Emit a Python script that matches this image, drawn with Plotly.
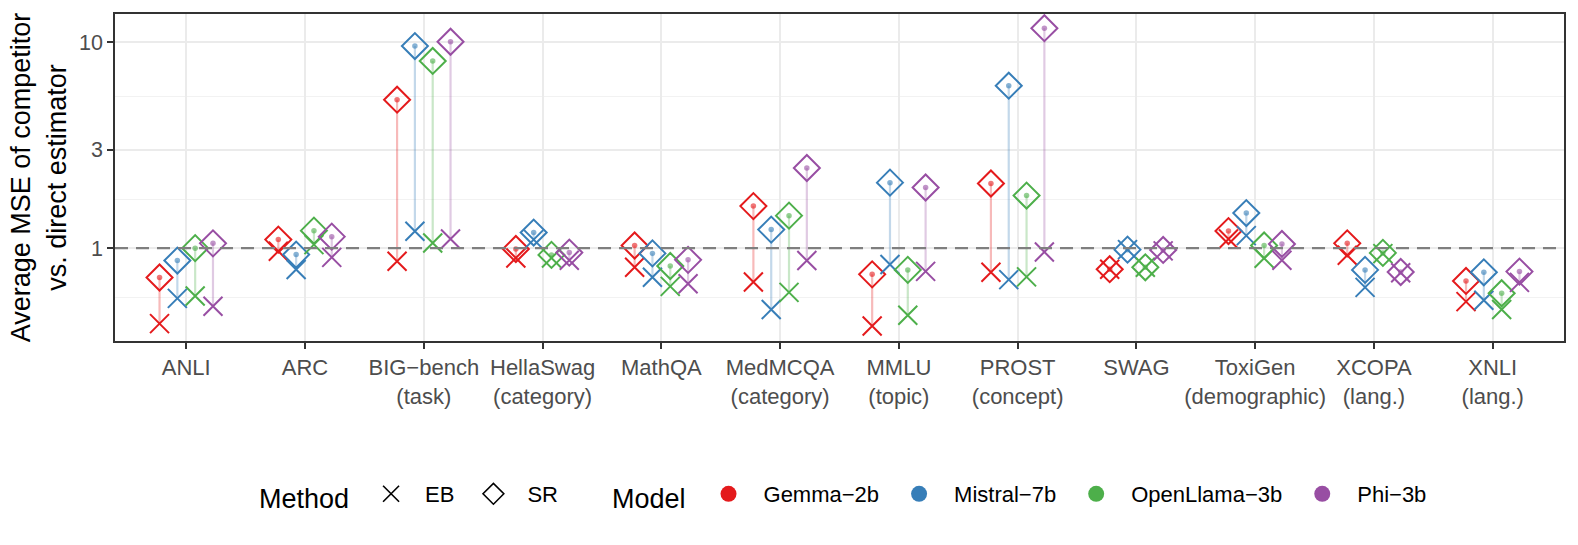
import plotly.graph_objects as go

categories = ["ANLI", "ARC", "BIG−bench<br>(task)", "HellaSwag<br>(category)", "MathQA",
              "MedMCQA<br>(category)", "MMLU<br>(topic)", "PROST<br>(concept)", "SWAG",
              "ToxiGen<br>(demographic)", "XCOPA<br>(lang.)", "XNLI<br>(lang.)"]
models = ["Gemma−2b", "Mistral−7b", "OpenLlama−3b", "Phi−3b"]
colors = ["#E41A1C", "#377EB8", "#4DAF4A", "#984EA3"]

sr_gemma = [0.72, 1.10, 5.26, 0.99, 1.03, 1.60, 0.746, 2.06, 0.79, 1.21, 1.055, 0.693]
eb_gemma = [0.43, 0.966, 0.863, 0.896, 0.807, 0.685, 0.419, 0.763, 0.79, 1.108, 0.923, 0.55]
sr_mistral = [0.87, 0.93, 9.58, 1.19, 0.943, 1.23, 2.08, 6.15, 0.983, 1.48, 0.784, 0.763]
eb_mistral = [0.57, 0.787, 1.207, 1.10, 0.722, 0.503, 0.832, 0.703, 0.983, 1.15, 0.645, 0.558]
sr_openllama = [1.0, 1.216, 8.11, 0.927, 0.819, 1.438, 0.784, 1.80, 0.807, 1.03, 0.948, 0.604]
eb_openllama = [0.586, 1.04, 1.06, 0.896, 0.652, 0.610, 0.472, 0.725, 0.807, 0.893, 0.94, 0.503]
sr_phi = [1.055, 1.137, 10.05, 0.951, 0.877, 2.45, 1.97, 11.7, 0.98, 1.048, 0.766, 0.769]
eb_phi = [0.522, 0.902, 1.108, 0.873, 0.672, 0.87, 0.771, 0.958, 0.97, 0.873, 0.76, 0.682]

y_tickvals = [1, 3, 10]
y_ticktext = ["1", "3", "10"]

sr_all = [sr_gemma, sr_mistral, sr_openllama, sr_phi]
eb_all = [eb_gemma, eb_mistral, eb_openllama, eb_phi]
dodge = [-0.225, -0.075, 0.075, 0.225]

FONT = "Liberation Sans, Arial, Helvetica, sans-serif"

def rgba(h, a):
    h = h.lstrip("#")
    return "rgba(%d,%d,%d,%s)" % (int(h[0:2], 16), int(h[2:4], 16), int(h[4:6], 16), a)

fig = go.Figure()

for m, (name, col) in enumerate(zip(models, colors)):
    xs = [i + dodge[m] for i in range(len(categories))]
    sx, sy = [], []
    for x, a, b in zip(xs, sr_all[m], eb_all[m]):
        sx += [x, x, None]
        sy += [a, b, None]
    fig.add_trace(go.Scatter(x=sx, y=sy, mode="lines", line=dict(color=rgba(col, 0.3), width=2.2),
                             showlegend=False, hoverinfo="skip"))
    fig.add_trace(go.Scatter(x=xs, y=sr_all[m], mode="markers", showlegend=False,
                             marker=dict(symbol="circle", size=5.5, color=rgba(col, 0.6), line=dict(width=0))))
    fig.add_trace(go.Scatter(x=xs, y=sr_all[m], mode="markers", showlegend=False,
                             marker=dict(symbol="diamond-open", size=20, color=col, line=dict(width=2, color=col))))
    fig.add_trace(go.Scatter(x=xs, y=eb_all[m], mode="markers", showlegend=False,
                             marker=dict(symbol="x-thin-open", size=19, color=col, line=dict(width=2, color=col))))

# legend entries
fig.add_trace(go.Scatter(x=[None], y=[None], mode="markers", name="EB", legend="legend",
                         marker=dict(symbol="x-thin-open", size=16, color="black", line=dict(width=1.6, color="black"))))
fig.add_trace(go.Scatter(x=[None], y=[None], mode="markers", name="SR", legend="legend",
                         marker=dict(symbol="diamond-open", size=16, color="black", line=dict(width=1.6, color="black"))))
for name, col in zip(models, colors):
    fig.add_trace(go.Scatter(x=[None], y=[None], mode="markers", name=name, legend="legend2",
                             marker=dict(symbol="circle", size=16, color=col)))

fig.add_hline(y=1, line=dict(color="#7F7F7F", width=2.4, dash="13px,8px"))

fig.update_layout(
    width=1578, height=545,
    margin=dict(l=115, r=14, t=14, b=204),
    plot_bgcolor="white", paper_bgcolor="white",
    font=dict(family=FONT, size=22, color="black"),
    legend=dict(orientation="h", x=0.098, xanchor="left", y=-0.474, yanchor="middle",
                title=dict(text="Method", font=dict(size=27, family=FONT), side="left"),
                font=dict(size=22, family=FONT), itemwidth=58, bgcolor="rgba(0,0,0,0)"),
    legend2=dict(orientation="h", x=0.3416, xanchor="left", y=-0.474, yanchor="middle",
                 title=dict(text="Model", font=dict(size=27, family=FONT), side="left"),
                 font=dict(size=22, family=FONT), itemwidth=60, bgcolor="rgba(0,0,0,0)"),
)

fig.update_xaxes(
    range=[-0.6, 11.6], tickmode="array", tickvals=list(range(len(categories))), ticktext=categories,
    tickfont=dict(size=22, color="#4D4D4D", family=FONT),
    showgrid=True, gridcolor="#EBEBEB", gridwidth=2,
    showline=True, linecolor="#333333", linewidth=1.5, mirror=True,
    ticks="outside", ticklen=6, tickcolor="#333333", tickwidth=1.5, zeroline=False, automargin=False,
)
fig.update_yaxes(
    type="log", range=[-0.451, 1.137], tickmode="array", tickvals=y_tickvals, ticktext=y_ticktext,
    tickfont=dict(size=21.5, color="#4D4D4D", family=FONT),
    showgrid=True, gridcolor="#EBEBEB", gridwidth=2,
    minor=dict(tickmode="array", tickvals=[0.57735, 1.7320508, 5.4772256], showgrid=True,
               gridcolor="#F2F2F2", gridwidth=1.2, ticks=""),
    showline=True, linecolor="#333333", linewidth=1.5, mirror=True,
    ticks="outside", ticklen=6, tickcolor="#333333", tickwidth=1.5, zeroline=False, automargin=False,
    title=dict(text="Average MSE of competitor<br>vs. direct estimator", font=dict(size=27, color="black", family=FONT),
               standoff=5),
)

fig.write_html("out.html", config={"displayModeBar": False},
               post_script="document.body.style.margin='0';")
